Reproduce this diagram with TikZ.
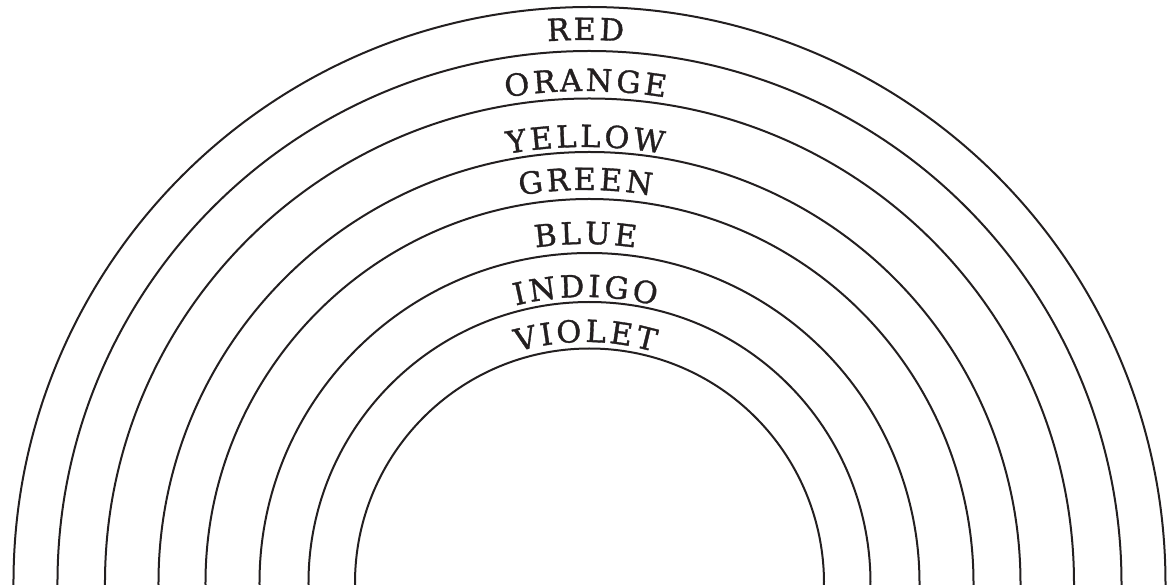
\documentclass[tikz,border=0pt]{standalone}
\usepackage{fontspec}
\setmainfont{DejaVu Serif}
\newfontfamily\lblfont[FakeBold=1.2]{DejaVu Serif}
\usetikzlibrary{decorations.text}
\definecolor{ink}{HTML}{231F20}
\newcommand\lsp{\kern3.3pt}
\begin{document}
\begin{tikzpicture}[x=1pt,y=1pt,
  arcline/.style={line width=2pt, draw=ink},
  lbl/.style={decorate, decoration={text along path, text align=center,
     text color=ink, text={|\lblfont\fontsize{30.5}{30.5}\selectfont|#1}}}]
\useasboundingbox (0,0) rectangle (1176,584);
\clip (0,0) rectangle (1176,584);
\coordinate (c) at (589.5,1);
\coordinate (t) at (585.5,1);
\foreach \r in {576,532,484.5,431,384,330,281,234.5}
  \draw[arcline] ([shift={(183:\r)}]c) arc[start angle=183, end angle=-3, radius=\r];
\path[lbl={{R\lsp}{E\lsp}D}] ([shift={(180:543)}]t) arc[start angle=180, end angle=0, radius=543];
\path[lbl={{O\lsp}{R\lsp}{A\lsp}{N\lsp}{G\lsp}E}] ([shift={(180:492)}]t) arc[start angle=180, end angle=0, radius=492];
\path[lbl={{Y\lsp}{E\lsp}{L\lsp}{L\lsp}{O\lsp}W}] ([shift={(180:436)}]t) arc[start angle=180, end angle=0, radius=436];
\path[lbl={{G\lsp}{R\lsp}{E\lsp}{E\lsp}N}] ([shift={(180:393)}]t) arc[start angle=180, end angle=0, radius=393];
\path[lbl={{B\lsp}{L\lsp}{U\lsp}E}] ([shift={(180:339)}]t) arc[start angle=180, end angle=0, radius=339];
\path[lbl={{I\lsp}{N\lsp}{D\lsp}{I\lsp}{G\lsp}O}] ([shift={(180:286)}]t) arc[start angle=180, end angle=0, radius=286];
\path[lbl={{V\lsp}{I\lsp}{O\lsp}{L\lsp}{E\lsp}T}] ([shift={(180:241)}]t) arc[start angle=180, end angle=0, radius=241];
\end{tikzpicture}
\end{document}
